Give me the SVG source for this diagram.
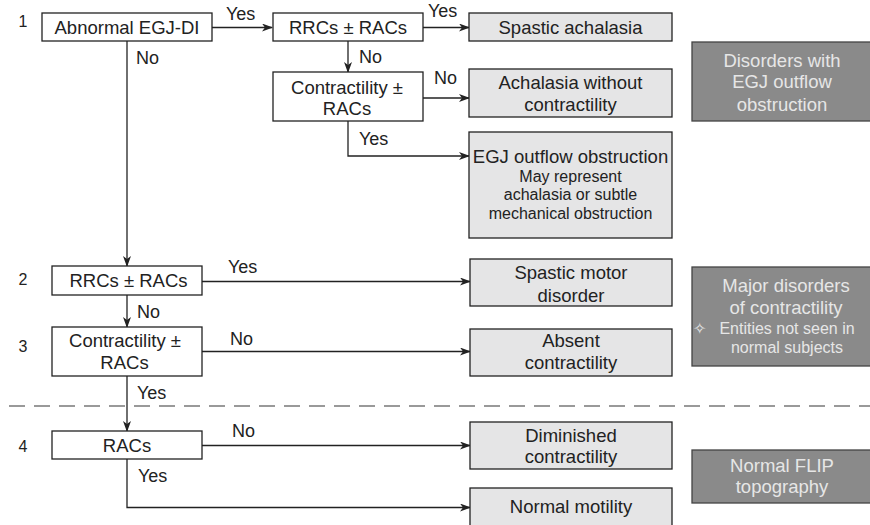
<svg xmlns="http://www.w3.org/2000/svg" width="870" height="525" viewBox="0 0 870 525">
<defs>
<marker id="ah" markerWidth="11" markerHeight="8" refX="10" refY="4" orient="auto" markerUnits="userSpaceOnUse">
<path d="M0,0 L11,4 L0,8 L3,4 z" fill="#222"/>
</marker>
<style>
text{font-family:"Liberation Sans",Arial,sans-serif;fill:#222}
.t{font-size:18.5px;text-anchor:middle}
.s{font-size:16px;text-anchor:middle}
.lb{font-size:18px}
.num{font-size:16px;text-anchor:middle}
.q{fill:#fff;stroke:#222;stroke-width:1.3}
.r{fill:#e5e5e6;stroke:#222;stroke-width:1.3}
.d{fill:#8a8a8a;stroke:#444;stroke-width:1.3}
.w{fill:#e6e6e6}
.c{fill:none;stroke:#222;stroke-width:1.3}
</style>
</defs>
<rect width="870" height="525" fill="#fff"/>
<line x1="9" y1="406" x2="870" y2="406" stroke="#999" stroke-width="2" stroke-dasharray="16,9"/>
<g id="nums">
<text class="num" x="23" y="27">1</text>
<text class="num" x="23" y="285">2</text>
<text class="num" x="23" y="352">3</text>
<text class="num" x="23" y="452">4</text>
</g>
<g id="connectors">
<path class="c" d="M212,27.5 H272" marker-end="url(#ah)"/>
<path class="c" d="M423,27.5 H469" marker-end="url(#ah)"/>
<path class="c" d="M348,41 V72" marker-end="url(#ah)"/>
<path class="c" d="M423,98 H469" marker-end="url(#ah)"/>
<path class="c" d="M348,121 V156 H469" marker-end="url(#ah)"/>
<path class="c" d="M127,41 V266" marker-end="url(#ah)"/>
<path class="c" d="M202,281.5 H470" marker-end="url(#ah)"/>
<path class="c" d="M127,295 V327" marker-end="url(#ah)"/>
<path class="c" d="M202,351.5 H470" marker-end="url(#ah)"/>
<path class="c" d="M127,376 V431" marker-end="url(#ah)"/>
<path class="c" d="M202,445.5 H470" marker-end="url(#ah)"/>
<path class="c" d="M127,459 V507.5 H470" marker-end="url(#ah)"/>
<text class="lb" x="226" y="20">Yes</text>
<text class="lb" x="136" y="64">No</text>
<text class="lb" x="428" y="17">Yes</text>
<text class="lb" x="359" y="63">No</text>
<text class="lb" x="434" y="84">No</text>
<text class="lb" x="359" y="145">Yes</text>
<text class="lb" x="228" y="273">Yes</text>
<text class="lb" x="137" y="318">No</text>
<text class="lb" x="230" y="345">No</text>
<text class="lb" x="137" y="399">Yes</text>
<text class="lb" x="232" y="437">No</text>
<text class="lb" x="138" y="482">Yes</text>
</g>
<g id="n1"><rect class="q" x="42" y="13" width="170" height="28"/><text class="t" x="127" y="33.5">Abnormal EGJ-DI</text></g>
<g id="n1a"><rect class="q" x="273" y="13" width="150" height="28"/><text class="t" x="348" y="33.5">RRCs ± RACs</text></g>
<g id="n1b"><rect class="q" x="273" y="72" width="150" height="49"/><text class="t" x="347" y="93.5">Contractility ±</text><text class="t" x="347" y="115">RACs</text></g>
<g id="o1"><rect class="r" x="469" y="13" width="203" height="28"/><text class="t" x="570.5" y="33.5">Spastic achalasia</text></g>
<g id="o2"><rect class="r" x="469" y="69" width="203" height="48"/><text class="t" x="570.5" y="88.5">Achalasia without</text><text class="t" x="570.5" y="110.5">contractility</text></g>
<g id="o3"><rect class="r" x="469" y="132" width="203" height="106"/><text class="t" x="570.5" y="162.5">EGJ outflow obstruction</text><text class="s" x="570.5" y="181.5">May represent</text><text class="s" x="570.5" y="200">achalasia or subtle</text><text class="s" x="570.5" y="219">mechanical obstruction</text></g>
<g id="g1"><rect class="d" x="692" y="42" width="180" height="79"/><text class="t w" x="782" y="66.5">Disorders with</text><text class="t w" x="782" y="88">EGJ outflow</text><text class="t w" x="782" y="110.5">obstruction</text></g>
<g id="n2"><rect class="q" x="52" y="266" width="150" height="29"/><text class="t" x="128.5" y="287">RRCs ± RACs</text></g>
<g id="n3"><rect class="q" x="52" y="327" width="150" height="49"/><text class="t" x="125" y="347">Contractility ±</text><text class="t" x="124.5" y="368.5">RACs</text></g>
<g id="o4"><rect class="r" x="470" y="259" width="202" height="47"/><text class="t" x="571" y="279">Spastic motor</text><text class="t" x="571" y="301.5">disorder</text></g>
<g id="o5"><rect class="r" x="470" y="329" width="202" height="47"/><text class="t" x="571" y="346.5">Absent</text><text class="t" x="571" y="369">contractility</text></g>
<g id="g2"><rect class="d" x="692" y="267" width="180" height="99"/><text class="t w" x="786" y="291.5">Major disorders</text><text class="t w" x="786" y="314">of contractility</text><text class="s w" x="699" y="334">✧</text><text class="s w" x="787" y="334">Entities not seen in</text><text class="s w" x="787" y="352.5">normal subjects</text></g>
<g id="n4"><rect class="q" x="52" y="431" width="150" height="28"/><text class="t" x="127" y="452">RACs</text></g>
<g id="o6"><rect class="r" x="470" y="422" width="202" height="47"/><text class="t" x="571" y="441.5">Diminished</text><text class="t" x="571" y="463">contractility</text></g>
<g id="o7"><rect class="r" x="470" y="488" width="202" height="45"/><text class="t" x="571" y="513">Normal motility</text></g>
<g id="g3"><rect class="d" x="692" y="450" width="180" height="53"/><text class="t w" x="782" y="471.5">Normal FLIP</text><text class="t w" x="782" y="493">topography</text></g>
</svg>
